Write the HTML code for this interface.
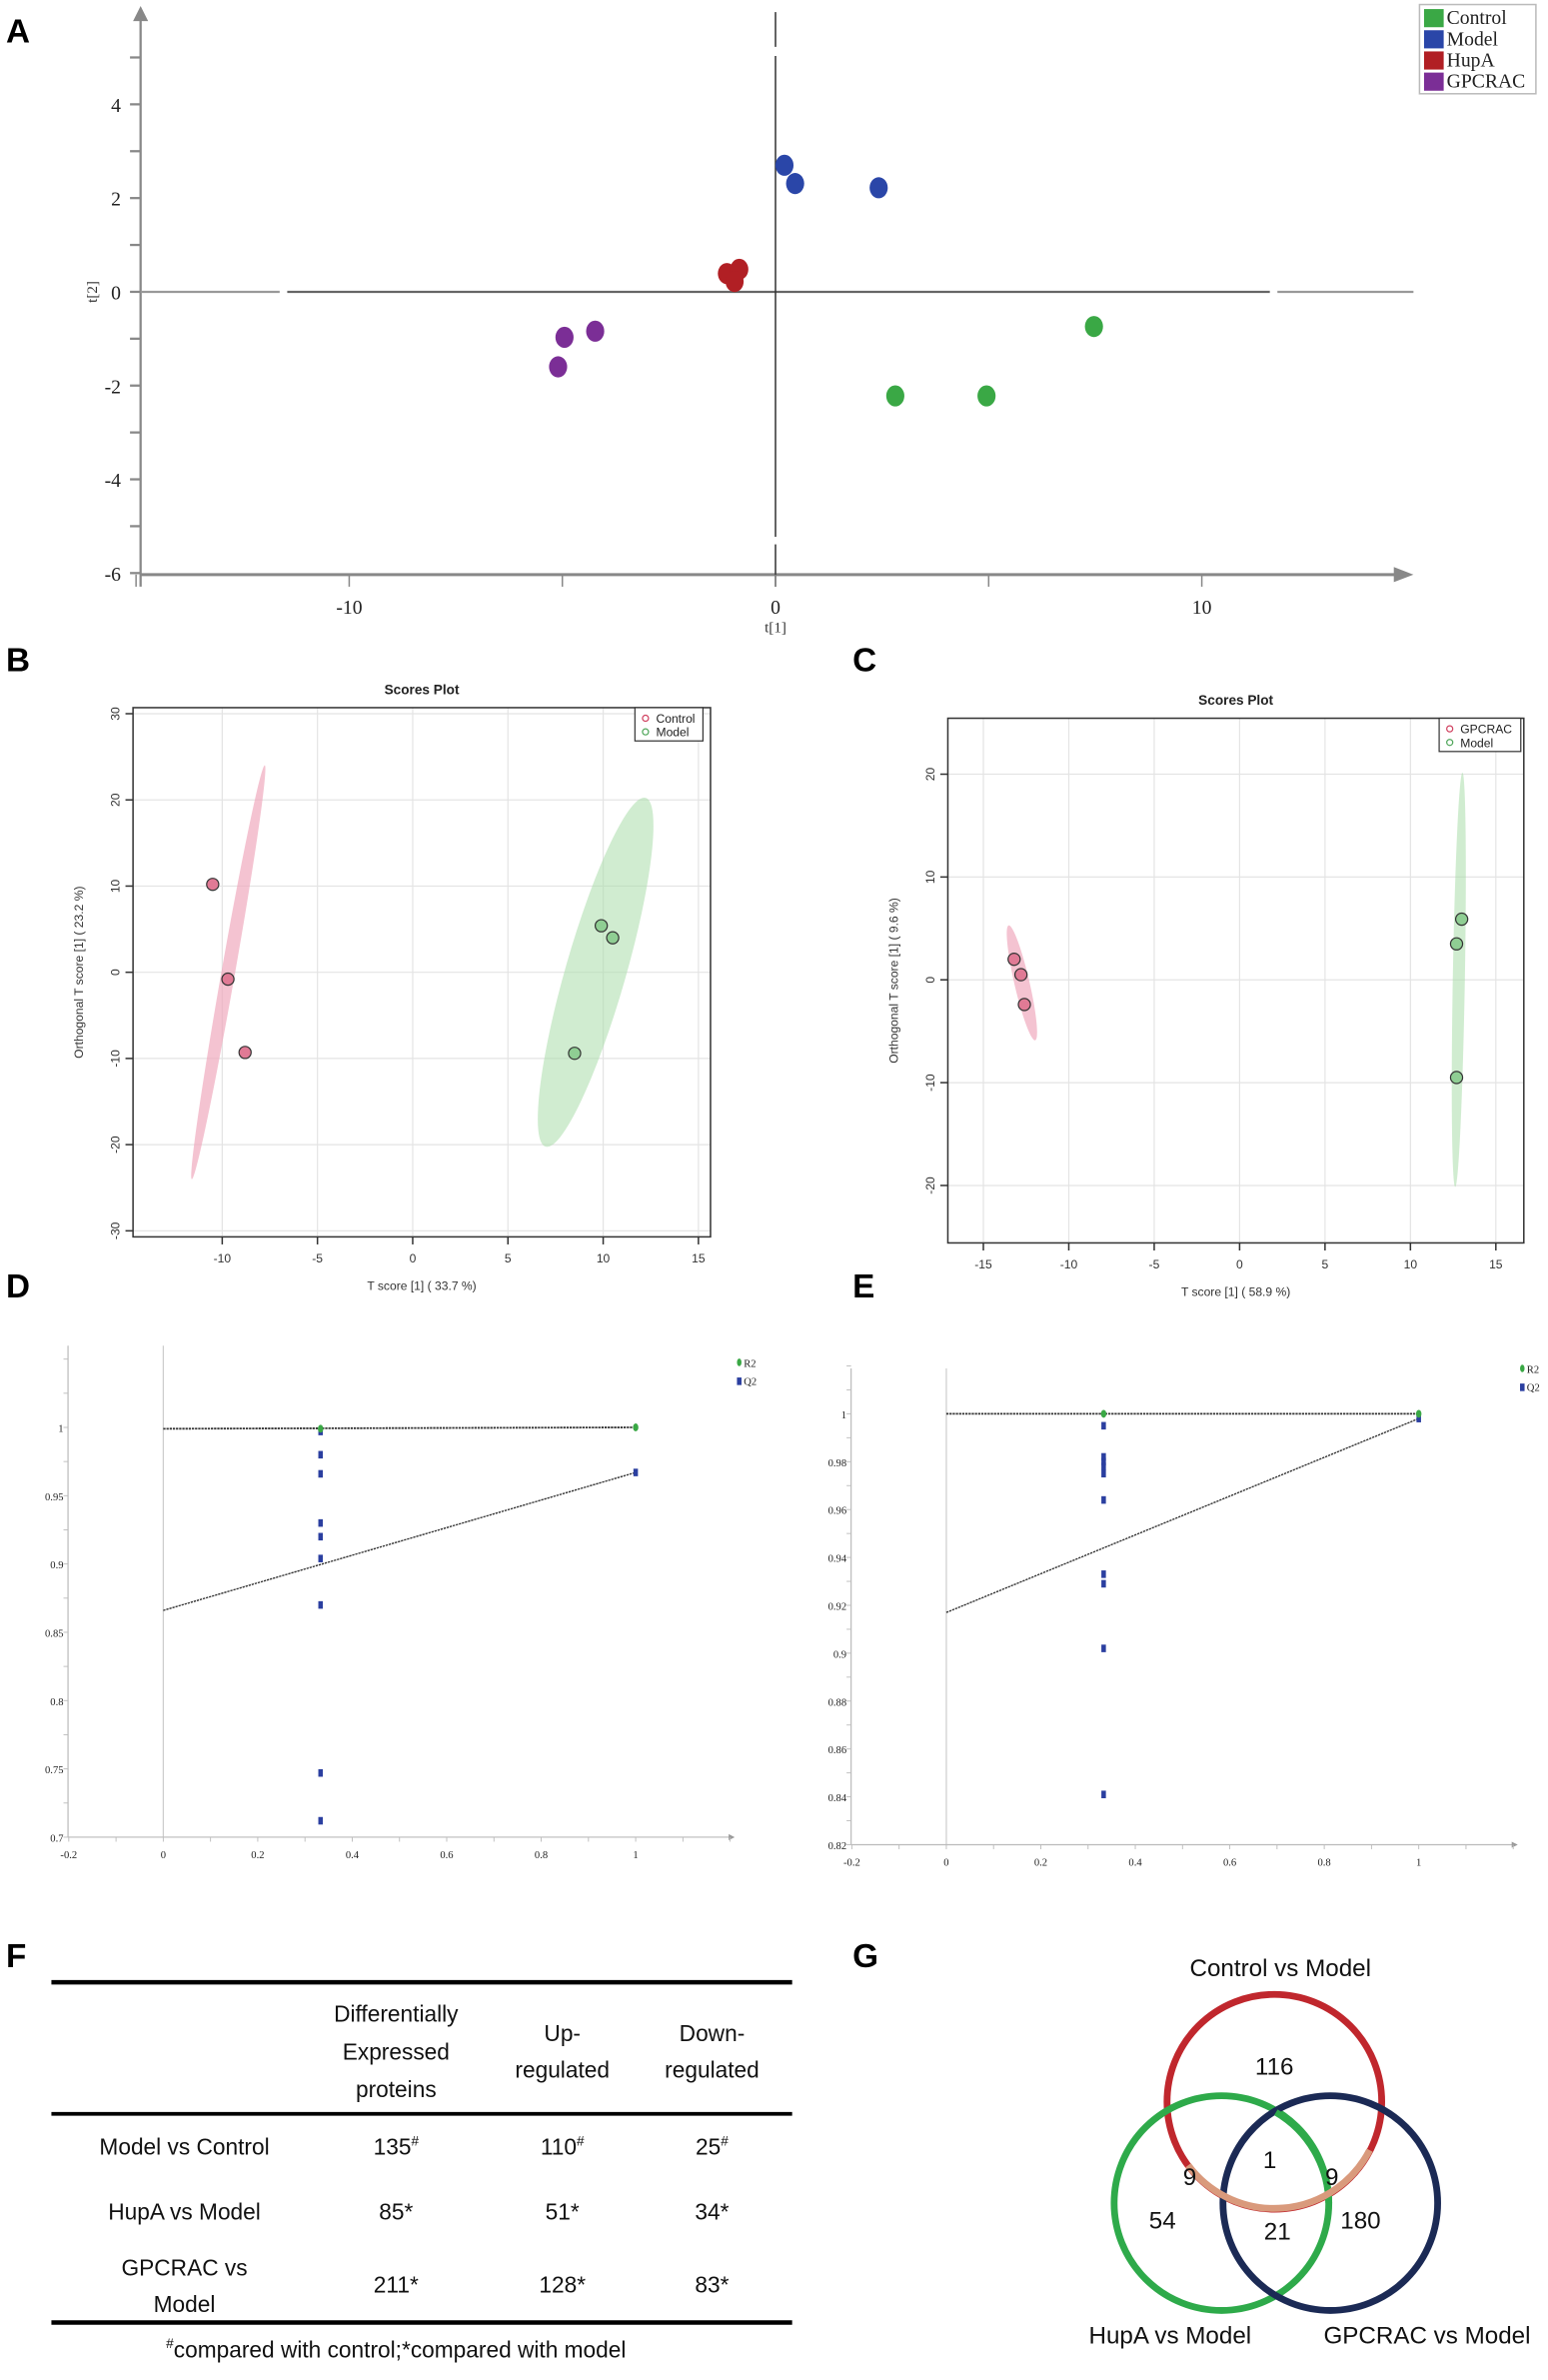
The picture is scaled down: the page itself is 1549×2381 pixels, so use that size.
<!DOCTYPE html>
<html><head><meta charset="utf-8"><style>
html,body{margin:0;padding:0;background:#fff}
svg{display:block}
.lbl{font-family:"Liberation Sans",Arial,sans-serif;font-weight:bold;font-size:22px}
.ser{font-family:"Liberation Serif",serif}
.san{font-family:"Liberation Sans",sans-serif}
</style></head><body>
<svg id="fig" width="1549" height="2381" viewBox="0 0 1024 1574" preserveAspectRatio="none" xmlns="http://www.w3.org/2000/svg">
<g class="lbl">
<text x="4" y="28">A</text><text x="4" y="444">B</text><text x="564" y="444">C</text>
<text x="4" y="858">D</text><text x="564" y="858">E</text><text x="4" y="1301">F</text><text x="564" y="1301">G</text>
</g>
<g id="pA"></g>
<g id="pB"></g>
<g id="pC"></g>
<g id="pD"></g>
<g id="pE"></g>
<g id="pF" class="san" font-size="15" text-anchor="middle" fill="#111">
<line x1="34" y1="1311" x2="524" y2="1311" stroke="#000" stroke-width="3"/>
<text x="262" y="1337">Differentially</text><text x="262" y="1362">Expressed</text><text x="262" y="1387">proteins</text>
<text x="372" y="1350">Up-</text><text x="372" y="1374">regulated</text>
<text x="471" y="1350">Down-</text><text x="471" y="1374">regulated</text>
<line x1="34" y1="1398" x2="524" y2="1398" stroke="#000" stroke-width="2.5"/>
<text x="122" y="1425">Model vs Control</text><text x="262" y="1425">135<tspan font-size="9" dy="-6">#</tspan></text><text x="372" y="1425">110<tspan font-size="9" dy="-6">#</tspan></text><text x="471" y="1425">25<tspan font-size="9" dy="-6">#</tspan></text>
<text x="122" y="1468">HupA vs Model</text><text x="262" y="1468">85*</text><text x="372" y="1468">51*</text><text x="471" y="1468">34*</text>
<text x="122" y="1505">GPCRAC vs</text><text x="122" y="1529">Model</text><text x="262" y="1516">211*</text><text x="372" y="1516">128*</text><text x="471" y="1516">83*</text>
<line x1="34" y1="1536" x2="524" y2="1536" stroke="#000" stroke-width="3"/>
<text x="262" y="1559"><tspan font-size="9" dy="-6">#</tspan><tspan dy="6">compared with control;*compared with model</tspan></text>
</g>
<g id="pG" class="san" font-size="16" text-anchor="middle" fill="#111">
<circle cx="843" cy="1390" r="71" fill="none" stroke="#c0272d" stroke-width="4.5"/>
<circle cx="808" cy="1457" r="71" fill="none" stroke="#2eaa4a" stroke-width="4.5"/>
<circle cx="880" cy="1457" r="71" fill="none" stroke="#1b2a55" stroke-width="4.5"/>
<path d="M 844 1397 A 71 71 0 0 1 879 1457" fill="none" stroke="#2eaa4a" stroke-width="4.5"/>
<path d="M 786 1432 A 71 71 0 0 0 906 1422" fill="none" stroke="#d99a7c" stroke-width="4.5"/>
<text x="847" y="1307">Control vs Model</text><text x="774" y="1550">HupA vs Model</text><text x="944" y="1550">GPCRAC vs Model</text>
<text x="843" y="1372">116</text><text x="787" y="1445">9</text><text x="881" y="1445">9</text><text x="840" y="1434">1</text>
<text x="769" y="1474">54</text><text x="845" y="1481">21</text><text x="900" y="1474">180</text>
</g>
</svg>
<script>
// ---- Panel A data ----
const aGroups = ["Control","Model","HupA","GPCRAC"];
const aControlX = [7.47, 2.81, 4.95];
const aControlY = [-0.74, -2.22, -2.22];
const aModelX = [0.21, 0.46, 2.42];
const aModelY = [2.7, 2.31, 2.22];
const aHupAX = [-1.14, -0.85, -0.96];
const aHupAY = [0.39, 0.48, 0.22];
const aGpcracX = [-4.95, -4.23, -5.1];
const aGpcracY = [-0.97, -0.84, -1.6];
const aXTicks = [-10, 0, 10];
const aYTicks = [-6, -4, -2, 0, 2, 4];
// ---- Panel B data ----
const bControlX = [-10.5, -9.7, -8.8];
const bControlY = [10.2, -0.8, -9.3];
const bModelX = [8.5, 9.9, 10.5];
const bModelY = [-9.4, 5.4, 4.0];
const bXTicks = [-10, -5, 0, 5, 10, 15];
const bYTicks = [-30, -20, -10, 0, 10, 20, 30];
// ---- Panel C data ----
const cGpcracX = [-13.2, -12.8, -12.6];
const cGpcracY = [2.0, 0.5, -2.4];
const cModelX = [13.0, 12.7, 12.7];
const cModelY = [5.9, 3.5, -9.5];
const cXTicks = [-15, -10, -5, 0, 5, 10, 15];
const cYTicks = [-20, -10, 0, 10, 20];
// ---- Panel D data ----
const dR2X = [0.333, 1];
const dR2Y = [0.999, 1.0];
const dQ2X = [0.333,0.333,0.333,0.333,0.333,0.333,0.333,0.333,0.333,1];
const dQ2Y = [0.997,0.98,0.966,0.93,0.92,0.904,0.87,0.747,0.712,0.967];
const dR2Line = [0.999, 1.0];
const dQ2Line = [0.866, 0.967];
const dXTicks = [-0.2,0,0.2,0.4,0.6,0.8,1];
const dYTicks = [0.7,0.75,0.8,0.85,0.9,0.95,1];
// ---- Panel E data ----
const eR2X = [0.333, 1];
const eR2Y = [1.0, 1.0];
const eQ2X = [0.333,0.333,0.333,0.333,0.333,0.333,0.333,0.333,0.333,0.333,1];
const eQ2Y = [0.995,0.982,0.98,0.978,0.975,0.964,0.933,0.929,0.902,0.841,0.998];
const eR2Line = [1.0, 1.0];
const eQ2Line = [0.917, 0.998];
const eXTicks = [-0.2,0,0.2,0.4,0.6,0.8,1];
const eYTicks = [0.82,0.84,0.86,0.88,0.9,0.92,0.94,0.96,0.98,1];

const NS="http://www.w3.org/2000/svg";
function mk(parent,tag,attrs,txt){const e=document.createElementNS(NS,tag);for(const k in attrs)e.setAttribute(k,attrs[k]);if(txt!==undefined)e.textContent=txt;parent.appendChild(e);return e;}
function lin(d0,d1,r0,r1){return v=>r0+(v-d0)*(r1-r0)/(d1-d0);}

// ---------- Panel A ----------
(function(){
const g=document.getElementById('pA');
const x=lin(0,10,513,795), y=lin(0,4,193,69);
mk(g,'line',{x1:93,y1:12,x2:93,y2:388,stroke:'#888','stroke-width':1.5});
mk(g,'polygon',{points:'88,14 93,4 98,14',fill:'#888'});
mk(g,'line',{x1:93,y1:380,x2:925,y2:380,stroke:'#888','stroke-width':2});
mk(g,'polygon',{points:'922,375 935,380 922,385',fill:'#888'});
mk(g,'line',{x1:190,y1:193,x2:840,y2:193,stroke:'#666','stroke-width':1.5});
mk(g,'line',{x1:845,y1:193,x2:935,y2:193,stroke:'#999','stroke-width':1.5});
mk(g,'line',{x1:93,y1:193,x2:185,y2:193,stroke:'#999','stroke-width':1.5});
mk(g,'line',{x1:513,y1:37,x2:513,y2:355,stroke:'#333','stroke-width':1});
mk(g,'line',{x1:513,y1:8,x2:513,y2:31,stroke:'#333','stroke-width':1});
mk(g,'line',{x1:513,y1:360,x2:513,y2:388,stroke:'#333','stroke-width':1});
for(let v=-6;v<=5;v++){mk(g,'line',{x1:86,y1:y(v),x2:93,y2:y(v),stroke:'#888','stroke-width':1.5});}
aYTicks.forEach(v=>{const t=mk(g,'text',{x:80,y:y(v)+5,'text-anchor':'end','font-size':13,class:'ser',fill:'#222'},String(v));});
for(let v=-15;v<=10;v+=5){mk(g,'line',{x1:x(v),y1:380,x2:x(v),y2:388,stroke:'#888','stroke-width':1});}
aXTicks.forEach(v=>{const t=mk(g,'text',{x:x(v),y:406,'text-anchor':'middle','font-size':13,class:'ser',fill:'#222'},String(v));});
const xt=mk(g,'text',{x:513,y:418,'text-anchor':'middle','font-size':10,class:'ser',fill:'#333'},'t[1]');

const yt=mk(g,'text',{x:0,y:0,'text-anchor':'middle','font-size':10,class:'ser',fill:'#333',transform:'translate(64,193) rotate(-90)'},'t[2]');

const cols=['#3aa845','#2a46a8','#b11f24','#7b2e96'];
const XS=[aControlX,aModelX,aHupAX,aGpcracX], YS=[aControlY,aModelY,aHupAY,aGpcracY];
XS.forEach((xs,gi)=>xs.forEach((v,i)=>{const e=mk(g,'ellipse',{cx:x(v),cy:y(YS[gi][i]),rx:6,ry:7,fill:cols[gi]});
}));
const lg=mk(g,'g',{});
mk(lg,'rect',{x:939,y:3,width:77,height:59,fill:'#fff',stroke:'#bbb'});
aGroups.forEach((n,i)=>{mk(lg,'rect',{x:942,y:6+i*14,width:13,height:12,fill:cols[i]});
const t=mk(lg,'text',{x:957,y:16+i*14,'font-size':13,class:'ser',fill:'#222'},n);});
})();

// ---------- Score plots B/C ----------
function scores(id,box,xd,yd,xT,yT,ser,names,ells,title,ylab,xlab,legBox,prefix){
const g=document.getElementById(id);
const x=lin(xd[0],xd[1],xd[2],xd[3]), y=lin(yd[0],yd[1],yd[2],yd[3]);
const [L,T,R,B]=box;
xT.forEach(v=>mk(g,'line',{x1:x(v),y1:T,x2:x(v),y2:B,stroke:'#e4e4e4','stroke-width':0.8}));
yT.forEach(v=>mk(g,'line',{x1:L,y1:y(v),x2:R,y2:y(v),stroke:'#e4e4e4','stroke-width':0.8}));
ells.forEach(e=>mk(g,'ellipse',{cx:e[0],cy:e[1],rx:e[2],ry:e[3],fill:e[4],transform:`rotate(${e[5]} ${e[0]} ${e[1]})`}));
ser.forEach((s,si)=>s[0].forEach((v,i)=>{const c=mk(g,'circle',{cx:x(v),cy:y(s[1][i]),r:4,fill:s[2],stroke:'#333','stroke-width':0.8});
}));
mk(g,'rect',{x:L,y:T,width:R-L,height:B-T,fill:'none',stroke:'#333','stroke-width':1});
xT.forEach(v=>{mk(g,'line',{x1:x(v),y1:B,x2:x(v),y2:B+5,stroke:'#333'});
const t=mk(g,'text',{x:x(v),y:B+17,'text-anchor':'middle','font-size':8,class:'san',fill:'#333'},String(v));});
yT.forEach(v=>{mk(g,'line',{x1:L-5,y1:y(v),x2:L,y2:y(v),stroke:'#333'});
const t=mk(g,'text',{x:0,y:0,'text-anchor':'middle','font-size':8,class:'san',fill:'#333',transform:`translate(${L-9},${y(v)}) rotate(-90)`},String(v));});
const tt=mk(g,'text',{x:(L+R)/2,y:T-9,'text-anchor':'middle','font-size':9,'font-weight':'bold',class:'san',fill:'#222'},title);

const xl=mk(g,'text',{x:(L+R)/2,y:B+35,'text-anchor':'middle','font-size':8,class:'san',fill:'#333'},xlab);

const yl=mk(g,'text',{x:0,y:0,'text-anchor':'middle','font-size':8,class:'san',fill:'#333',transform:`translate(${L-33},${(T+B)/2}) rotate(-90)`},ylab);

const lg=mk(g,'g',{});
mk(lg,'rect',{x:legBox[0],y:T,width:legBox[1],height:22,fill:'#fff',stroke:'#333','stroke-width':0.8});
names.forEach((n,i)=>{mk(lg,'circle',{cx:legBox[0]+7,cy:T+7+i*9,r:2,fill:'none',stroke:ser[i][3],'stroke-width':0.8});
const t=mk(lg,'text',{x:legBox[0]+14,y:T+10+i*9,'font-size':8,class:'san',fill:'#222'},n);});
}
scores('pB',[88,468,470,818],[0,10,273,399],[0,10,643,586],bXTicks,bYTicks,
 [[bControlX,bControlY,'#e07a95','#d0405f'],[bModelX,bModelY,'#8fce93','#4fa65a']],['Control','Model'],
 [[151,643,4.5,139,'rgba(240,170,190,0.7)',10],[394,643,20,120,'rgba(170,220,170,0.55)',16]],
 'Scores Plot','Orthogonal T score [1] ( 23.2 %)','T score [1] ( 33.7 %)',[420,45],'b');
scores('pC',[627,475,1008,822],[0,10,820,933],[0,10,648,580],cXTicks,cYTicks,
 [[cGpcracX,cGpcracY,'#e07a95','#d0405f'],[cModelX,cModelY,'#8fce93','#4fa65a']],['GPCRAC','Model'],
 [[676,650,5,39,'rgba(240,170,190,0.7)',-13],[965,648,4,137,'rgba(170,220,170,0.55)',1]],
 'Scores Plot','Orthogonal T score [1] ( 9.6 %)','T score [1] ( 58.9 %)',[952,54],'c');

// ---------- Permutation plots D/E ----------
function perm(id,ax0,ax1,yBot,yTop,yd,xT,yT,r2x,r2y,q2x,q2y,r2l,q2l,dec,leg,prefix){
const g=document.getElementById(id);
const x=lin(0,1,ax1,ax1+312.5), y=lin(yd[0],yd[1],yd[2],yd[3]);
mk(g,'line',{x1:ax0,y1:yTop,x2:ax0,y2:yBot,stroke:'#bbb','stroke-width':0.8});
mk(g,'line',{x1:x(0),y1:yTop,x2:x(0),y2:yBot,stroke:'#ccc','stroke-width':0.8});
mk(g,'line',{x1:ax0,y1:yBot,x2:ax0+440,y2:yBot,stroke:'#bbb','stroke-width':0.8});
mk(g,'polygon',{points:`${ax0+437},${yBot-2} ${ax0+441},${yBot} ${ax0+437},${yBot+2}`,fill:'#999'});
const step=(yT[1]-yT[0])/2;
for(let v=yT[0];v<=yT[yT.length-1]+step*2.5;v+=step){mk(g,'line',{x1:ax0-3,y1:y(v),x2:ax0,y2:y(v),stroke:'#bbb','stroke-width':0.6});}
yT.forEach(v=>{const t=mk(g,'text',{x:ax0-3,y:y(v)+3,'text-anchor':'end','font-size':7,class:'ser',fill:'#222'},v.toFixed(dec).replace(/\.?0+$/,'').replace(/^0\./,'0.'));});
for(let v=-0.2;v<=1.21;v+=0.1){mk(g,'line',{x1:x(v),y1:yBot,x2:x(v),y2:yBot+3,stroke:'#bbb','stroke-width':0.6});}
xT.forEach(v=>{const t=mk(g,'text',{x:x(v),y:yBot+14,'text-anchor':'middle','font-size':7,class:'ser',fill:'#222'},String(v));});
const l1=mk(g,'line',{x1:x(0),y1:y(r2l[0]),x2:x(1),y2:y(r2l[1]),stroke:'#333','stroke-width':1.2,'stroke-dasharray':'1.5 0.6'});

const l2=mk(g,'line',{x1:x(0),y1:y(q2l[0]),x2:x(1),y2:y(q2l[1]),stroke:'#333','stroke-width':0.9,'stroke-dasharray':'1.5 0.6'});

q2x.forEach((v,i)=>{const r=mk(g,'rect',{x:x(v)-1.5,y:y(q2y[i])-2.5,width:3,height:5,fill:'#2b3fa0'});});
r2x.forEach((v,i)=>{const r=mk(g,'ellipse',{cx:x(v),cy:y(r2y[i]),rx:1.8,ry:2.6,fill:'#3aa845'});});
const lg=mk(g,'g',{});
mk(lg,'ellipse',{cx:leg[0],cy:leg[1],rx:1.5,ry:2.5,fill:'#3aa845'});
mk(lg,'rect',{x:leg[0]-1.5,y:leg[1]+10,width:3,height:5,fill:'#2b3fa0'});
mk(lg,'text',{x:leg[0]+3,y:leg[1]+3,'font-size':7,class:'ser',fill:'#222'},'R2');
mk(lg,'text',{x:leg[0]+3,y:leg[1]+15,'font-size':7,class:'ser',fill:'#222'},'Q2');
}
perm('pD',45,108,1215,890,[1,0.7,944,1215],dXTicks,dYTicks,dR2X,dR2Y,dQ2X,dQ2Y,dR2Line,dQ2Line,2,[489,901],'d');
perm('pE',563,626,1220,905,[1,0.82,935,1220],eXTicks,eYTicks,eR2X,eR2Y,eQ2X,eQ2Y,eR2Line,eQ2Line,2,[1007,905],'e');
</script>
</body></html>
